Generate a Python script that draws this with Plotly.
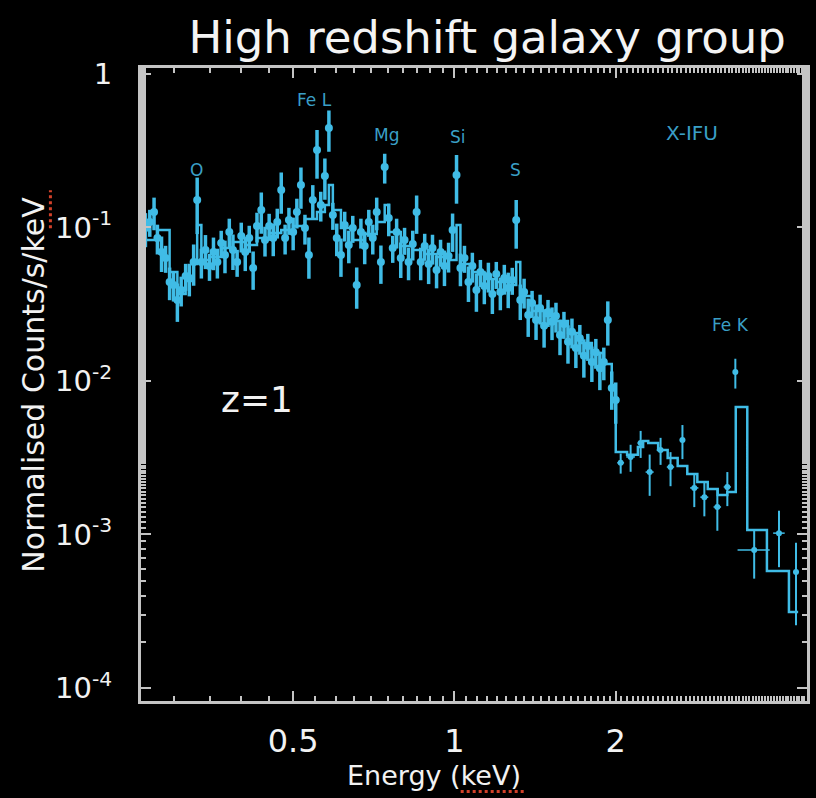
import math
import plotly.graph_objects as go

# ---------------- spectrum data (keV, counts/s/keV) ----------------
energy_kev = [
    0.261, 0.265, 0.270, 0.275, 0.279, 0.284, 0.289, 0.294, 0.299, 0.304,
    0.309, 0.315, 0.320, 0.326, 0.331, 0.337, 0.343, 0.349, 0.355, 0.361,
    0.367, 0.373, 0.380, 0.386, 0.393, 0.400, 0.407, 0.414, 0.421, 0.428,
    0.436, 0.443, 0.451, 0.459, 0.467, 0.475, 0.483, 0.491, 0.500, 0.508,
    0.517, 0.526, 0.535, 0.544, 0.554, 0.563, 0.573, 0.583, 0.593, 0.603,
    0.614, 0.624, 0.635, 0.646, 0.657, 0.669, 0.680, 0.692, 0.704, 0.716,
    0.729, 0.741, 0.754, 0.767, 0.780, 0.794, 0.807, 0.821, 0.836, 0.850,
    0.865, 0.880, 0.895, 0.910, 0.926, 0.942, 0.958, 0.975, 0.992, 1.009,
    1.026, 1.044, 1.062, 1.080, 1.099, 1.118, 1.137, 1.157, 1.177, 1.197,
    1.218, 1.239, 1.260, 1.282, 1.304, 1.327, 1.349, 1.373, 1.396, 1.420,
    1.445, 1.470, 1.495, 1.521, 1.547, 1.574, 1.601, 1.629, 1.657, 1.685,
    1.714, 1.744, 1.774, 1.805, 1.836, 1.868, 1.900, 1.933, 1.966, 2.000,
]
counts = [
    0.0714, 0.0992, 0.1086, 0.1262, 0.0855, 0.0693, 0.0633, 0.0442, 0.0422, 0.0337,
    0.0392, 0.0483, 0.0468, 0.0596, 0.1510, 0.0596, 0.0714, 0.0561, 0.0693, 0.0596,
    0.0793, 0.0662, 0.0935, 0.0714, 0.0596, 0.0881, 0.0693, 0.0855, 0.0545, 0.1023,
    0.1300, 0.0829, 0.1023, 0.0855, 0.1086, 0.1755, 0.0855, 0.1119, 0.0935, 0.1262,
    0.1891, 0.0992, 0.0662, 0.1510, 0.3197, 0.1401, 0.2165, 0.4449, 0.1206, 0.0855,
    0.0662, 0.1038, 0.0769, 0.0992, 0.0422, 0.0935, 0.0758, 0.1086, 0.0855, 0.1262,
    0.0596, 0.2477, 0.1153, 0.0735, 0.0935, 0.0633, 0.0829, 0.0596, 0.0781, 0.1262,
    0.0596, 0.0758, 0.0578, 0.0735, 0.0528, 0.0693, 0.0561, 0.0652, 0.0963, 0.2198,
    0.0545, 0.0633, 0.0442, 0.0561, 0.0392, 0.0512, 0.0416, 0.0483, 0.0369, 0.0497,
    0.0380, 0.0468, 0.0403, 0.0455, 0.1119, 0.0337, 0.0380, 0.0269, 0.0322, 0.0250,
    0.0299, 0.0229, 0.0281, 0.0243, 0.0265, 0.0199, 0.0235, 0.0180, 0.0209, 0.0164,
    0.0190, 0.0146, 0.0169, 0.0133, 0.0154, 0.0121, 0.0133, 0.0250, 0.00901, 0.00752,
]
counts_rel_err = [
    0.22, 0.25, 0.20, 0.24, 0.22, 0.26, 0.20, 0.24, 0.22, 0.28,
    0.22, 0.20, 0.24, 0.30, 0.40, 0.22, 0.25, 0.20, 0.24, 0.22,
    0.20, 0.24, 0.22, 0.26, 0.20, 0.22, 0.25, 0.20, 0.28, 0.22,
    0.30, 0.22, 0.20, 0.24, 0.22, 0.30, 0.22, 0.20, 0.24, 0.22,
    0.30, 0.22, 0.30, 0.25, 0.35, 0.22, 0.30, 0.30, 0.20, 0.24,
    0.28, 0.22, 0.24, 0.20, 0.30, 0.22, 0.24, 0.20, 0.22, 0.24,
    0.28, 0.22, 0.24, 0.20, 0.22, 0.26, 0.20, 0.24, 0.22, 0.28,
    0.24, 0.20, 0.26, 0.22, 0.24, 0.20, 0.26, 0.22, 0.28, 0.35,
    0.24, 0.20, 0.26, 0.22, 0.28, 0.20, 0.24, 0.22, 0.26, 0.20,
    0.24, 0.22, 0.26, 0.20, 0.35, 0.26, 0.22, 0.28, 0.20, 0.26,
    0.22, 0.28, 0.20, 0.24, 0.22, 0.26, 0.20, 0.28, 0.22, 0.26,
    0.22, 0.28, 0.20, 0.26, 0.22, 0.28, 0.24, 0.32, 0.28, 0.30,
]

# sparser high-energy bins above 2 keV (wider channels)
energy_hi_kev = [2.043, 2.132, 2.226, 2.314, 2.425, 2.531, 2.664, 2.803,
                 2.927, 3.095, 3.231, 3.344, 3.626, 4.034, 4.340]
energy_hi_halfwidth = [0.03, 0.04, 0.03, 0.04, 0.04, 0.04, 0.03, 0.05,
                       0.05, 0.05, 0.05, 0.02, 0.25, 0.10, 0.05]
counts_hi = [0.00293, 0.00320, 0.00394, 0.00255, 0.00355, 0.00275, 0.00413,
             0.00201, 0.00175, 0.00151, 0.00204, 0.01144, 0.000793, 0.00102,
             0.000570]
counts_hi_rel_err = [0.15, 0.20, 0.20, 0.30, 0.20, 0.25, 0.25, 0.25,
                     0.25, 0.30, 0.25, 0.22, 0.35, 0.40, 0.55]

# folded best-fit model, drawn as a histogram
model_energy_kev = [
    0.261, 0.279, 0.294, 0.304, 0.315, 0.326, 0.331, 0.337, 0.349, 0.367,
    0.386, 0.407, 0.428, 0.451, 0.475, 0.500, 0.526, 0.554, 0.573, 0.583,
    0.593, 0.614, 0.646, 0.680, 0.716, 0.741, 0.754, 0.794, 0.836, 0.880,
    0.926, 0.975, 1.009, 1.026, 1.080, 1.137, 1.197, 1.260, 1.304, 1.327,
    1.396, 1.470, 1.547, 1.629, 1.714, 1.805, 1.900, 1.966, 2.000, 2.100,
    2.200, 2.250, 2.300, 2.400, 2.500, 2.610, 2.720, 2.840, 2.970, 3.100,
    3.230, 3.350, 3.520, 3.830, 4.210, 4.380,
]
model_counts = [
    0.0829, 0.0963, 0.0512, 0.0369, 0.0448, 0.0578, 0.1038, 0.0614, 0.0642, 0.0735,
    0.0805, 0.0769, 0.0855, 0.0921, 0.0963, 0.1023, 0.1136, 0.1262, 0.1401, 0.1891,
    0.1300, 0.0992, 0.0829, 0.0908, 0.1086, 0.1401, 0.0935, 0.0758, 0.0714, 0.0672,
    0.0642, 0.0614, 0.1038, 0.0578, 0.0512, 0.0462, 0.0442, 0.0422, 0.0596, 0.0358,
    0.0286, 0.0265, 0.0246, 0.0205, 0.0177, 0.0152, 0.0129, 0.00942, 0.00345, 0.00330,
    0.00372, 0.00407, 0.00394, 0.00355, 0.00315, 0.00279, 0.00248, 0.00220, 0.00198, 0.00181,
    0.00189, 0.00677, 0.00107, 0.000578, 0.000313, 0.000313,
]

# emission-line labels: (text, energy keV, counts)
line_labels = [
    ("O", 0.330, 0.237),
    ("Fe L", 0.549, 0.677),
    ("Mg", 0.746, 0.400),
    ("Si", 1.017, 0.389),
    ("S", 1.300, 0.237),
    ("X-IFU", 2.78, 0.413),
    ("Fe K", 3.27, 0.0232),
]

x_tickvals = [0.5, 1, 2]
x_ticktext = ["0.5", "1", "2"]
y_tickvals = [1, 0.1, 0.01, 0.001, 0.0001]
y_ticktext = ["1", "10<sup>-1</sup>", "10<sup>-2</sup>", "10<sup>-3</sup>", "10<sup>-4</sup>"]

CYAN = "#40bce6"
LABEL_CYAN = "#3a9fc6"
FRAME = "#c4c4c4"
WHITE = "#f2f2f2"
FONT = "'DejaVu Sans', sans-serif"

fig = go.Figure()

fig.add_trace(go.Scatter(
    x=model_energy_kev, y=model_counts, mode="lines",
    line=dict(color=CYAN, width=2.5, shape="hv"),
    hoverinfo="skip", showlegend=False,
))

fig.add_trace(go.Scatter(
    x=energy_kev, y=counts, mode="markers",
    marker=dict(color=CYAN, size=8),
    error_y=dict(type="data", array=[c * r for c, r in zip(counts, counts_rel_err)],
                 color=CYAN, thickness=3.5, width=0),
    showlegend=False,
))

fig.add_trace(go.Scatter(
    x=energy_hi_kev, y=counts_hi, mode="markers",
    marker=dict(color=CYAN, size=6),
    error_y=dict(type="data", array=[c * r for c, r in zip(counts_hi, counts_hi_rel_err)],
                 color=CYAN, thickness=2, width=0),
    error_x=dict(type="data", array=energy_hi_halfwidth,
                 color=CYAN, thickness=1.5, width=0),
    showlegend=False,
))

annotations = []
for text, e, c in line_labels:
    annotations.append(dict(
        x=math.log10(e), y=math.log10(c), xref="x", yref="y",
        text=text, showarrow=False,
        font=dict(family=FONT, size=20 if text == "X-IFU" else 17, color=LABEL_CYAN),
    ))

annotations += [
    dict(x=math.log10(0.428), y=math.log10(0.00752), xref="x", yref="y",
         text="z=1", showarrow=False,
         font=dict(family=FONT, size=36, color=WHITE)),
    # axis titles
    dict(x=0.4395, y=-0.117, xref="paper", yref="paper",
         xanchor="center", yanchor="middle",
         text="Energy (keV)", showarrow=False,
         font=dict(family=FONT, size=27, color=WHITE)),
    dict(x=-0.1614, y=0.499, xref="paper", yref="paper", textangle=-90,
         xanchor="center", yanchor="middle",
         text="Normalised Counts/s/keV", showarrow=False,
         font=dict(family=FONT, size=30, color=WHITE)),
]

# red spell-check squiggles under "keV"
shapes = [
    dict(type="line", xref="paper", yref="paper", x0=0.480, x1=0.578, y0=-0.143, y1=-0.143,
         line=dict(color="#d2412a", width=3, dash="dot")),
    dict(type="line", xref="paper", yref="paper", x0=-0.136, x1=-0.136, y0=0.747, y1=0.807,
         line=dict(color="#d2412a", width=3, dash="dot")),
]

fig.update_layout(
    width=816, height=798,
    paper_bgcolor="black", plot_bgcolor="black",
    margin=dict(l=141, r=6, t=68, b=97),
    title=dict(text="High redshift galaxy group", x=0.597, xanchor="center",
               y=0.953, yanchor="middle",
               font=dict(family=FONT, size=45, color="#f4f4f4")),
    annotations=annotations,
    shapes=shapes,
    xaxis=dict(
        type="log", range=[math.log10(0.26), math.log10(4.55)],
        tickvals=x_tickvals, ticktext=x_ticktext,
        ticks="inside", ticklen=10, tickwidth=2, tickcolor=FRAME,
        minor=dict(ticks="inside", ticklen=5, tickwidth=2, tickcolor=FRAME, showgrid=False),
        showline=True, linecolor=FRAME, linewidth=3, mirror="ticks",
        showgrid=False, zeroline=False,
        ticklabelstandoff=10,
        tickfont=dict(family=FONT, size=32, color=WHITE),
    ),
    yaxis=dict(
        type="log", range=[-4.085, 0.039],
        tickvals=y_tickvals, ticktext=y_ticktext,
        ticks="inside", ticklen=10, tickwidth=2, tickcolor=FRAME,
        minor=dict(ticks="inside", ticklen=5, tickwidth=2, tickcolor=FRAME, showgrid=False),
        showline=True, linecolor=FRAME, linewidth=3, mirror="ticks",
        showgrid=False, zeroline=False,
        ticklabelstandoff=20,
        tickfont=dict(family=FONT, size=29, color=WHITE),
    ),
)

fig.write_html("out.html")
